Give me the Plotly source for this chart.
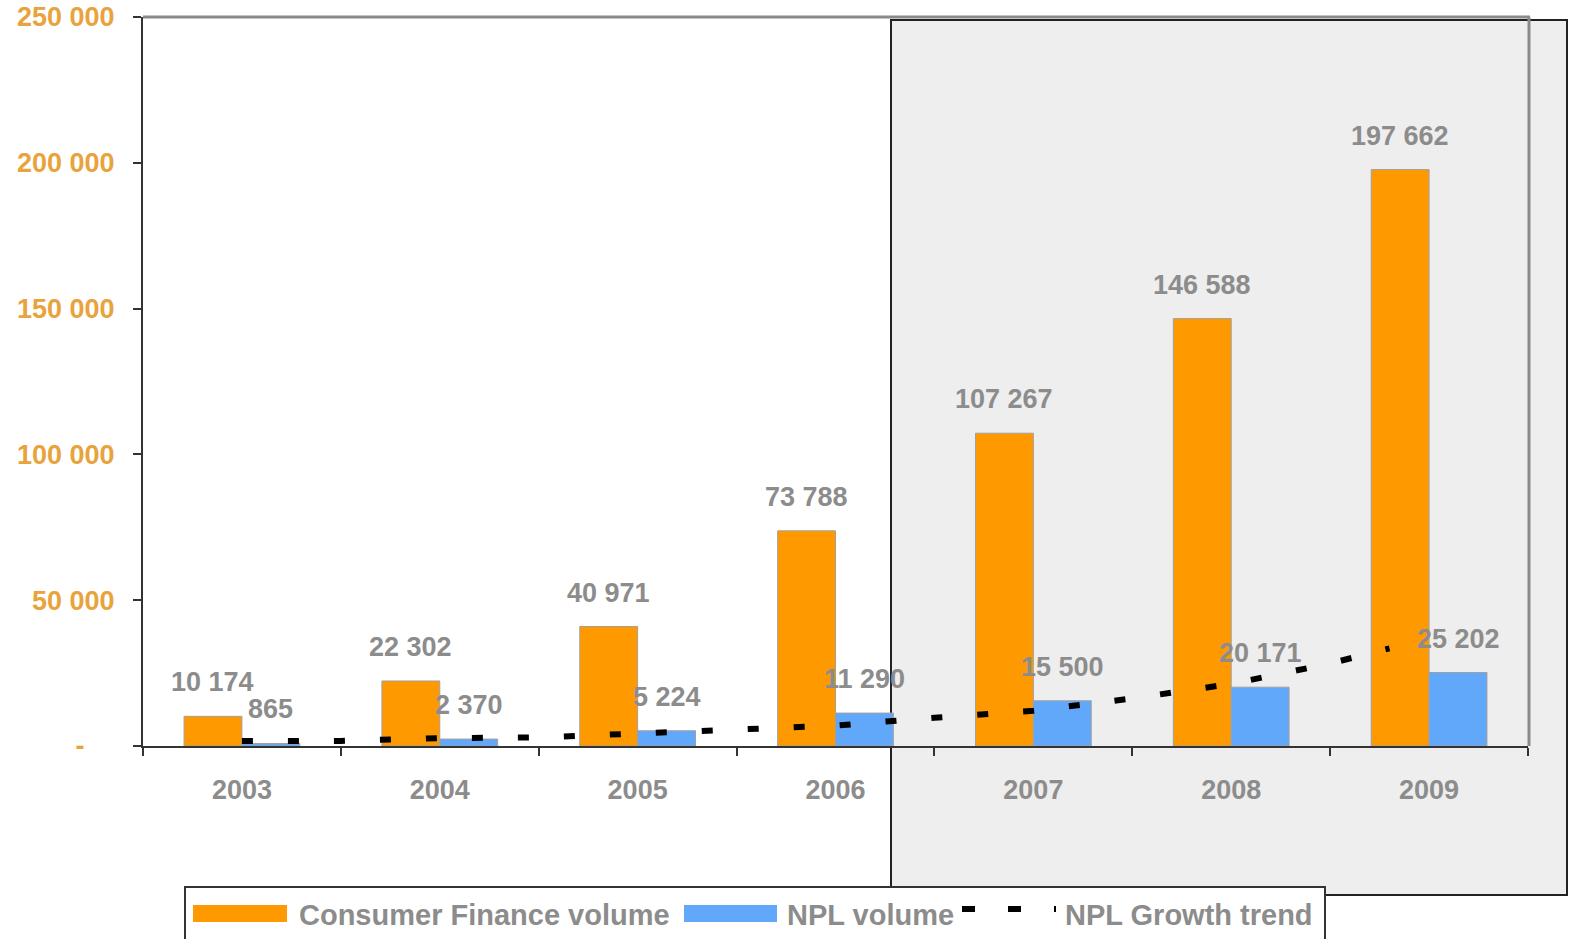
import plotly.graph_objects as go

# ---------------- data ----------------
years = ["2003", "2004", "2005", "2006", "2007", "2008", "2009"]
consumer_finance = [10174, 22302, 40971, 73788, 107267, 146588, 197662]
npl_volume = [865, 2370, 5224, 11290, 15500, 20171, 25202]
cf_labels = ["10 174", "22 302", "40 971", "73 788", "107 267", "146 588", "197 662"]
npl_labels = ["865", "2 370", "5 224", "11 290", "15 500", "20 171", "25 202"]

# NPL growth trend (read at positions along the category axis, in category units)
trend_pos = [0.0, 0.5, 1.0, 1.5, 2.0, 2.5, 3.0, 3.5, 4.0, 4.5, 5.0, 5.5, 5.8]
trend_val = [1700, 1750, 2700, 2950, 4300, 5600, 7000, 9700, 12100, 16300, 21300, 28300, 33500]

y_ticks = [0, 50000, 100000, 150000, 200000, 250000]
y_ticktext = ["-" + "\u00a0" * 4, "50 000", "100 000", "150 000", "200 000", "250 000"]

# ---------------- style ----------------
W, H = 1572, 939
# plot area in screen pixels
L, R, T, B = 143, 1528, 17, 746
ORANGE = "#FF9900"
BLUE = "#62A8FA"
GRAY_TXT = "#8C8C8C"
ORANGE_TXT = "#E8A33C"
FONT = "Liberation Sans"
BARGAP = 0.415


def px2x(px):
    return (px - L) / (R - L)


def px2y(py):
    return (B - py) / (B - T)


fig = go.Figure()
fig.add_trace(go.Bar(x=years, y=consumer_finance, name="Consumer Finance volume",
                     marker=dict(color=ORANGE, line=dict(color="#A0A0A0", width=1))))
fig.add_trace(go.Bar(x=years, y=npl_volume, name="NPL volume",
                     marker=dict(color=BLUE, line=dict(color="#A0A0A0", width=1))))
fig.add_trace(go.Scatter(x=trend_pos, y=trend_val, xaxis="x2", mode="lines",
                         name="NPL Growth trend",
                         line=dict(color="black", width=6, dash="11px,35px")))

# data labels
half = (1 - BARGAP) / 4
lab_font = dict(family=FONT, size=27, color=GRAY_TXT)
annotations = []
for i in range(len(years)):
    annotations.append(dict(x=i - half, y=consumer_finance[i], xref="x2", yref="y",
                            text="<b>%s</b>" % cf_labels[i], showarrow=False,
                            yshift=34, font=lab_font))
    annotations.append(dict(x=i + half, y=npl_volume[i], xref="x2", yref="y",
                            text="<b>%s</b>" % npl_labels[i], showarrow=False,
                            yshift=34, font=lab_font))

# custom legend
leg_y = 915
leg_font = dict(family=FONT, size=29, color=GRAY_TXT)
for txt, px in [("Consumer Finance volume", 297), ("NPL volume", 785), ("NPL Growth trend", 1063)]:
    annotations.append(dict(x=px2x(px), y=px2y(leg_y), xref="paper", yref="paper",
                            xanchor="left", yanchor="middle", showarrow=False,
                            text="<b>%s</b>" % txt, font=leg_font))

shapes = [
    # shaded forecast box
    dict(type="rect", xref="paper", yref="paper", layer="below",
         x0=px2x(891), x1=px2x(1567), y0=px2y(895), y1=px2y(20),
         fillcolor="#EEEEEE", line=dict(color="#222222", width=2)),
    # top & right frame of plot (gray)
    dict(type="line", xref="paper", yref="paper", x0=0, x1=px2x(1530), y0=1, y1=1,
         line=dict(color="#8A8A8A", width=3)),
    dict(type="line", xref="paper", yref="paper", x0=px2x(1529), x1=px2x(1529), y0=0, y1=1,
         line=dict(color="#8A8A8A", width=3)),
    # legend box
    dict(type="rect", xref="paper", yref="paper",
         x0=px2x(185), x1=px2x(1325), y0=px2y(960), y1=px2y(887),
         fillcolor="white", line=dict(color="#333333", width=2)),
    dict(type="rect", xref="paper", yref="paper",
         x0=px2x(193), x1=px2x(287), y0=px2y(922), y1=px2y(905),
         fillcolor=ORANGE, line=dict(width=0)),
    dict(type="rect", xref="paper", yref="paper",
         x0=px2x(684), x1=px2x(777), y0=px2y(922), y1=px2y(905),
         fillcolor=BLUE, line=dict(width=0)),
    dict(type="line", xref="paper", yref="paper",
         x0=px2x(962), x1=px2x(1056), y0=px2y(909), y1=px2y(909),
         line=dict(color="black", width=6, dash="13px,33px")),
]

fig.update_layout(
    width=W, height=H,
    margin=dict(l=L, r=W - R, t=T, b=H - B, autoexpand=False),
    paper_bgcolor="white", plot_bgcolor="rgba(0,0,0,0)",
    barmode="group", bargap=BARGAP, bargroupgap=0,
    showlegend=False,
    font=dict(family=FONT),
    xaxis=dict(type="category", tickson="boundaries", ticks="outside", ticklen=8,
               tickcolor="#333333", tickwidth=1.5, showline=True, linecolor="#333333",
               linewidth=2, showgrid=False, ticklabelstandoff=19, automargin=False,
               tickfont=dict(family=FONT, size=27, color=GRAY_TXT),
               tickvals=years, ticktext=["<b>%s</b>" % y for y in years]),
    xaxis2=dict(overlaying="x", range=[-0.5, 6.5], visible=False),
    yaxis=dict(range=[0, 250000], tickvals=y_ticks,
               ticktext=["<b>%s</b>" % t for t in y_ticktext],
               ticks="outside", ticklen=8, tickcolor="#333333", tickwidth=1.5,
               showline=True, linecolor="#333333", linewidth=2, showgrid=False,
               zeroline=False, ticklabelstandoff=13, automargin=False,
               ticklabeloverflow="allow",
               tickfont=dict(family=FONT, size=27, color=ORANGE_TXT)),
    annotations=annotations,
    shapes=shapes,
)

fig.write_html("out.html", config={"displayModeBar": False},
               post_script="document.body.style.margin='0px';document.body.style.overflow='hidden';")
